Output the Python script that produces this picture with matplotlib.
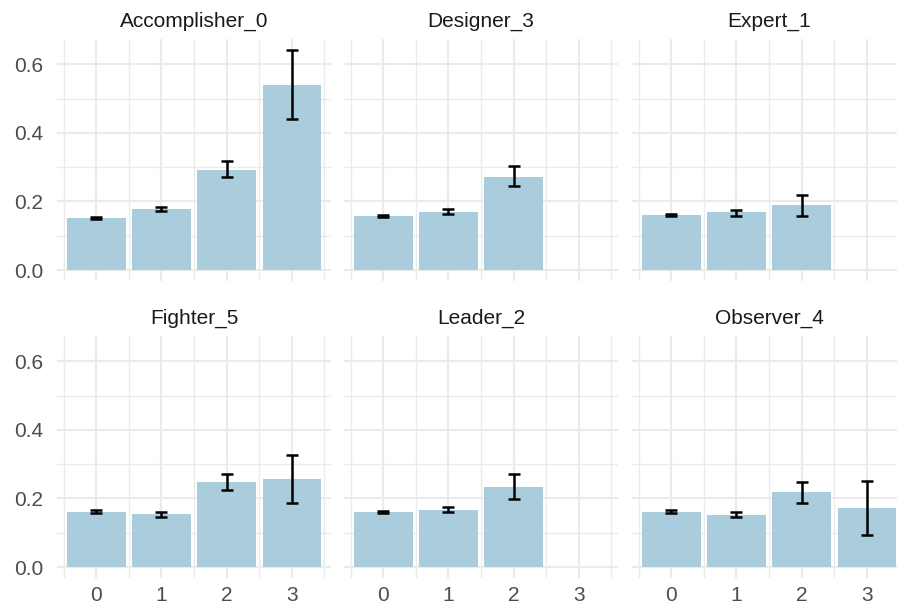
import numpy as np
import matplotlib
matplotlib.use("Agg")
import matplotlib.pyplot as plt
from matplotlib.ticker import MultipleLocator

plt.rcParams['font.family'] = ['Liberation Sans', 'DejaVu Sans']

groups = ['Accomplisher_0', 'Designer_3', 'Expert_1', 'Fighter_5', 'Leader_2', 'Observer_4']
levels = [0, 1, 2, 3]

# mean and error-bar limits per group (None = no data for that level)
means = {
    'Accomplisher_0': [0.151, 0.177, 0.293, 0.539],
    'Designer_3':     [0.157, 0.170, 0.272, None],
    'Expert_1':       [0.160, 0.168, 0.189, None],
    'Fighter_5':      [0.162, 0.154, 0.248, 0.256],
    'Leader_2':       [0.160, 0.167, 0.233, None],
    'Observer_4':     [0.162, 0.153, 0.219, 0.171],
}
lower = {
    'Accomplisher_0': [0.148, 0.171, 0.272, 0.440],
    'Designer_3':     [0.154, 0.164, 0.245, None],
    'Expert_1':       [0.157, 0.158, 0.158, None],
    'Fighter_5':      [0.159, 0.147, 0.225, 0.187],
    'Leader_2':       [0.157, 0.160, 0.199, None],
    'Observer_4':     [0.159, 0.145, 0.187, 0.093],
}
upper = {
    'Accomplisher_0': [0.154, 0.183, 0.318, 0.642],
    'Designer_3':     [0.160, 0.178, 0.303, None],
    'Expert_1':       [0.163, 0.174, 0.219, None],
    'Fighter_5':      [0.165, 0.161, 0.272, 0.327],
    'Leader_2':       [0.163, 0.174, 0.271, None],
    'Observer_4':     [0.165, 0.161, 0.249, 0.252],
}

W, H = 897, 611
fig = plt.figure(figsize=(W / 100, H / 100), dpi=100)

lefts = [57, 344, 632]
tops = [39, 336]
pw, ph = 274, 242

bar_col = '#A9CDDD'
grid_col = '#EBEBEB'

for i, g in enumerate(groups):
    r, c = divmod(i, 3)
    ax = fig.add_axes([lefts[c] / W, 1 - (tops[r] + ph) / H, pw / W, ph / H])
    ax.set_facecolor('white')
    m = means[g]
    xs = [x for x, v in zip(levels, m) if v is not None]
    ys = [v for v in m if v is not None]
    lo = [v for v in lower[g] if v is not None]
    hi = [v for v in upper[g] if v is not None]
    ax.bar(xs, ys, width=0.9, color=bar_col, zorder=2)
    yerr = [np.array(ys) - np.array(lo), np.array(hi) - np.array(ys)]
    ax.errorbar(xs, ys, yerr=yerr, fmt='none', ecolor='black', elinewidth=1.8,
                capsize=4, capthick=1.8, zorder=3)

    ax.set_xlim(-0.6, 3.6)
    ax.set_ylim(-0.032, 0.674)
    ax.set_xticks(levels)
    ax.xaxis.set_minor_locator(MultipleLocator(1.0, offset=0.5))
    ax.set_yticks([0.0, 0.2, 0.4, 0.6])
    ax.yaxis.set_minor_locator(MultipleLocator(0.1))
    ax.grid(which='major', color=grid_col, lw=1.5, zorder=0)
    ax.grid(which='minor', color=grid_col, lw=1.0, zorder=0)
    ax.set_axisbelow(True)
    for s in ax.spines.values():
        s.set_visible(False)
    ax.tick_params(which='both', length=0, labelsize=15, labelcolor='#4D4D4D')
    ax.tick_params(axis='y', pad=10)
    ax.tick_params(axis='x', pad=6)
    if r == 1:
        ax.set_xticklabels([str(v) for v in levels])
    else:
        ax.set_xticklabels([])
    if c == 0:
        ax.set_yticklabels(['0.0', '0.2', '0.4', '0.6'])
    else:
        ax.set_yticklabels([])
    ax.set_title(g, fontsize=15, color='#1A1A1A', pad=9)

fig.savefig('out.png', dpi=100)
